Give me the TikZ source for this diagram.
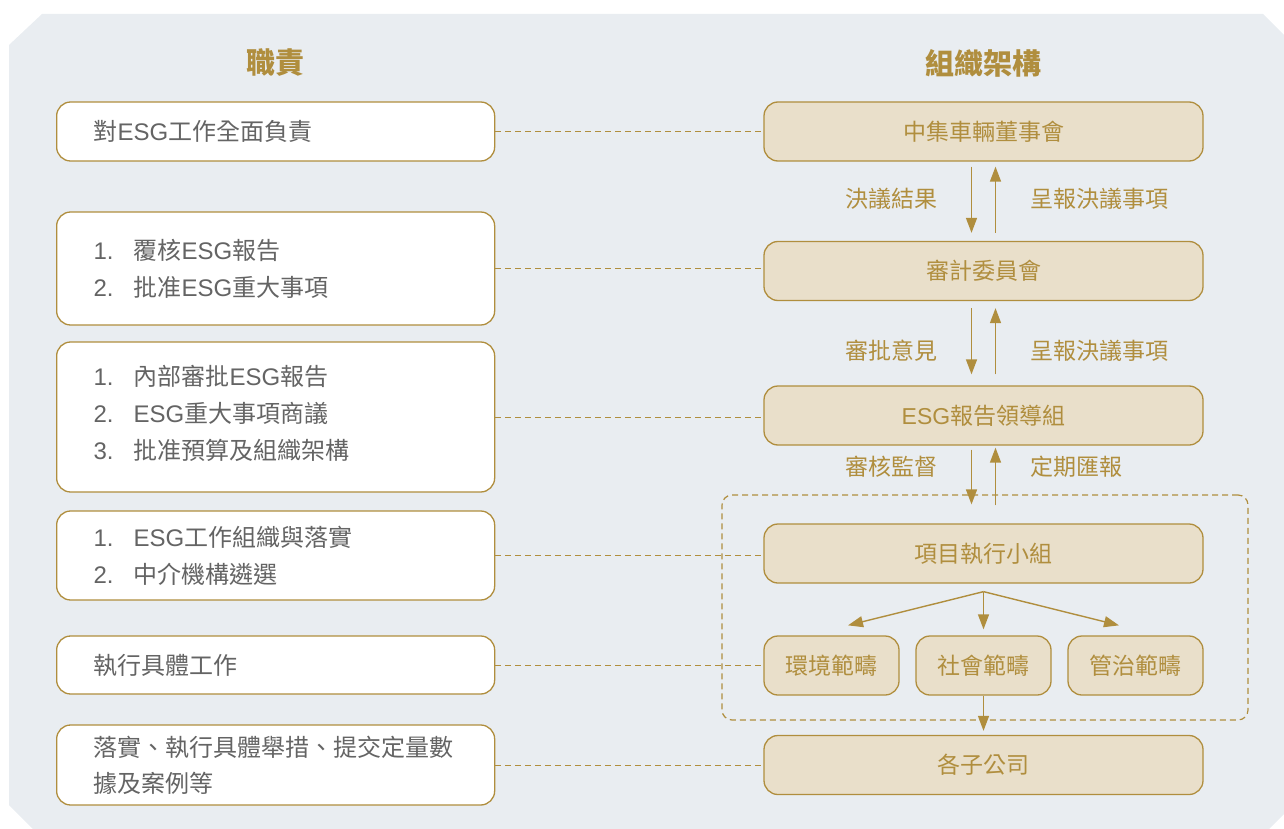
\documentclass[tikz,border=0pt]{standalone}
\usepackage{fontspec}
\setmainfont{Noto Sans CJK TC}
\newfontfamily\lat{Liberation Sans}
\usetikzlibrary{arrows.meta}
\definecolor{bgc}{HTML}{E9EDF1}
\definecolor{gold}{HTML}{B08E3E}
\definecolor{beige}{HTML}{E9DFCA}
\definecolor{txt}{HTML}{646464}
\newcommand{\numitem}[2]{\makebox[40pt][l]{\lat #1}#2}
\newcommand{\esg}{{\lat ESG}}
\begin{document}
\begin{tikzpicture}[x=1pt,y=-1pt,
  lbox/.style={draw=gold, line width=1.3pt, fill=white, rounded corners=14pt,
    text width=364pt, inner xsep=37pt, inner ysep=0pt, align=left, text=txt,
    font=\fontsize{24}{37}\selectfont, anchor=west},
  rbox/.style={draw=gold, line width=1.3pt, fill=beige, rounded corners=14pt,
    minimum width=439pt, minimum height=59pt, inner sep=0pt, text=gold,
    font=\fontsize{23}{28}\selectfont},
  sbox/.style={rbox, minimum width=135pt},
  lbl/.style={text=gold, font=\fontsize{23}{28}\selectfont, inner sep=0pt},
  head/.style={text=gold, font=\fontsize{29}{34}\selectfont\bfseries},
  conn/.style={draw=gold, line width=1pt, dash pattern=on 6pt off 4pt},
  arr/.style={draw=gold, line width=1.4pt, -{Triangle[width=11pt,length=15pt]}}
]
\useasboundingbox (0,0) rectangle (1284,829);
\fill[bgc] (42,14) -- (1263,14) -- (1284,35) -- (1284,814) -- (1269,829)
  -- (33,829) -- (9,805) -- (9,45) -- cycle;

% headings
\node[head] (h1) at (275,63) {職責};
\node[head] (h2) at (983.5,63) {組織架構};

% left boxes
\node[lbox, minimum height=59pt] (L1) at (56,131.5) {對\esg 工作全面負責};
\node[lbox, minimum height=113pt] (L2) at (56,268.5) {\numitem{1.}{覆核\esg 報告}\\\numitem{2.}{批准\esg 重大事項}};
\node[lbox, minimum height=150pt] (L3) at (56,417) {};
\node[lbox, draw=none, fill=none] (L3t) at (56,413) {\numitem{1.}{內部審批\esg 報告}\\\numitem{2.}{\esg 重大事項商議}\\\numitem{3.}{批准預算及組織架構}};
\node[lbox, minimum height=89pt] (L4) at (56,555.5) {\numitem{1.}{\esg 工作組織與落實}\\\numitem{2.}{中介機構遴選}};
\node[lbox, minimum height=58pt] (L5) at (56,665) {執行具體工作};
\node[lbox, minimum height=80pt, font=\fontsize{24}{36}\selectfont] (L6) at (56,765) {落實、執行具體舉措、提交定量數\\據及案例等};

% dashed group box
\node[draw=gold, line width=1.2pt, dash pattern=on 6pt off 4pt, rounded corners=10pt,
  minimum width=526pt, minimum height=225pt, inner sep=0pt] (G) at (985,607.5) {};

% right boxes
\node[rbox] (A) at (983.5,131.5) {中集車輛董事會};
\node[rbox] (B) at (983.5,271) {審計委員會};
\node[rbox] (C) at (983.5,415.5) {\esg 報告領導組};
\node[rbox] (D) at (983.5,553.5) {項目執行小組};
\node[sbox] (S1) at (831.5,665.5) {環境範疇};
\node[sbox] (S2) at (983.5,665.5) {社會範疇};
\node[sbox] (S3) at (1135.5,665.5) {管治範疇};
\node[rbox] (E) at (983.5,765) {各子公司};

% dashed connectors
\draw[conn] (L1.east) -- (L1.east -| A.west);
\draw[conn] (L2.east) -- (L2.east -| B.west);
\draw[conn] (L3.east) -- (L3.east -| C.west);
\draw[conn] (L4.east) -- (L4.east -| D.west);
\draw[conn] (L5.east) -- (L5.east -| S1.west);
\draw[conn] (L6.east) -- (L6.east -| E.west);

% labels
\node[lbl, anchor=east] (t1) at (938,199) {決議結果};
\node[lbl, anchor=west] (t2) at (1030,199) {呈報決議事項};
\node[lbl, anchor=east] (t3) at (938,351) {審批意見};
\node[lbl, anchor=west] (t4) at (1030,351) {呈報決議事項};
\node[lbl, anchor=east] (t5) at (938,467) {審核監督};
\node[lbl, anchor=west] (t6) at (1030,467) {定期匯報};

% vertical arrows
\draw[arr, shorten <=5pt, shorten >=8pt] ([xshift=-12pt]A.south) -- ([xshift=-12pt]B.north);
\draw[arr, shorten <=8pt, shorten >=5pt] ([xshift=12pt]B.north) -- ([xshift=12pt]A.south);
\draw[arr, shorten <=7pt, shorten >=11pt] ([xshift=-12pt]B.south) -- ([xshift=-12pt]C.north);
\draw[arr, shorten <=11pt, shorten >=7pt] ([xshift=12pt]C.north) -- ([xshift=12pt]B.south);
\draw[arr, shorten <=4pt] ([xshift=-12pt]C.south) -- ([xshift=-13.5pt,yshift=-10pt]G.north);
\draw[arr, shorten >=2pt] ([xshift=10.5pt,yshift=-11pt]G.north) -- ([xshift=12pt]C.south);

% fan arrows
\coordinate (F) at ([yshift=-8pt]D.south);
\draw[arr] (F) -- ([xshift=16.5pt,yshift=10pt]S1.north);
\draw[arr] (F) -- ([yshift=6pt]S2.north);
\draw[arr] (F) -- ([xshift=-16.5pt,yshift=10pt]S3.north);
\draw[arr, shorten >=4pt] (S2.south) -- (E.north);
\end{tikzpicture}
\end{document}
